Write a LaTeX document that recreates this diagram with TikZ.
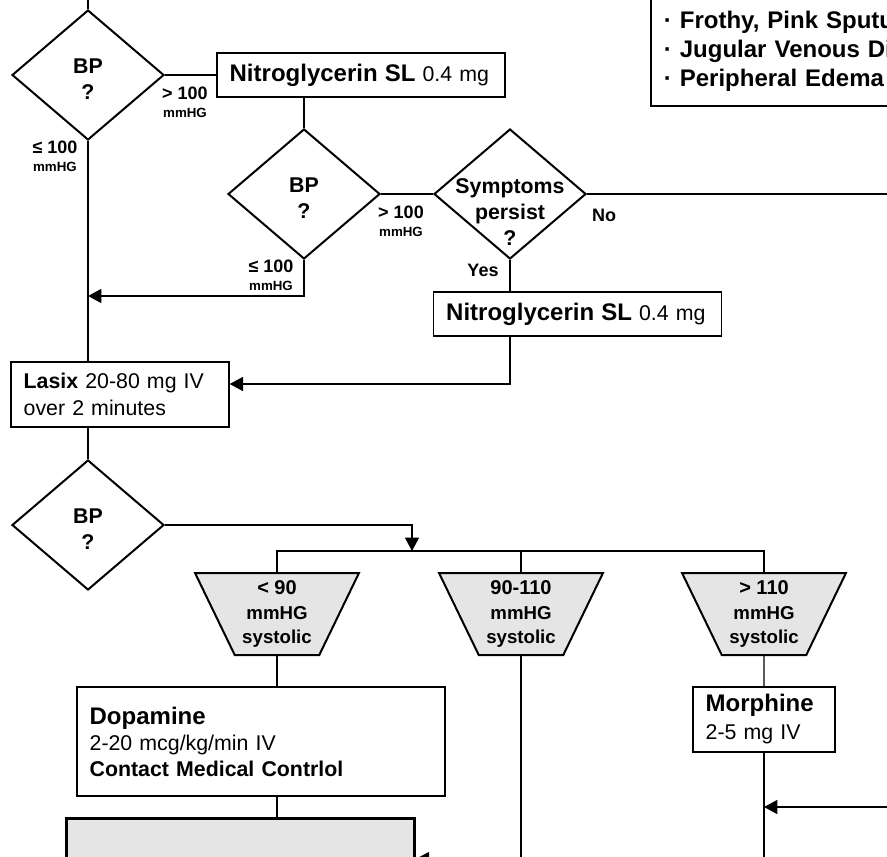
\documentclass[tikz,border=0pt]{standalone}
\usepackage{fontspec}
\setmainfont{Liberation Sans}
\usetikzlibrary{arrows.meta}
\usetikzlibrary{shapes.geometric}

\tikzset{
  decide/.style={draw, diamond, line width=1.5pt, inner sep=0pt, minimum width=114pt, minimum height=97.5pt},
  dtext/.style={align=center, inner sep=0pt, font=\bfseries\fontsize{16}{19.5}\selectfont},
  procbox/.style={draw, line width=1pt, inner xsep=9.5pt, inner ysep=0pt, align=left, font=\fontsize{16}{20}\selectfont},
  bprange/.style={draw, trapezium, trapezium angle=116, trapezium stretches=true, fill=gray!20, line width=1.5pt, inner sep=0pt, minimum width=123pt, minimum height=61.5pt, align=center, font=\bfseries\fontsize{14}{18.4}\selectfont},
  cond/.style={align=center, inner sep=0pt, font=\bfseries\fontsize{10}{13.5}\selectfont},
  yesno/.style={inner sep=0pt, font=\bfseries\fontsize{13.5}{16}\selectfont},
  link/.style={line width=1pt},
  linkarr/.style={link, -{Triangle[length=10pt,width=10.5pt]}},
}

\begin{document}
\begin{tikzpicture}[x=0.75pt,y=0.75pt,yscale=-1,xscale=1]
\useasboundingbox (0,0) rectangle (887,856);
\clip (0,0) rectangle (887,856);

%Flowchart: Decision
\node[decide] (bp1) at (88,75) {};
\node[dtext] (bp1txt) at (88,79) {BP\\?};
%Flowchart: Process
\node[procbox, text width=197pt, minimum height=33pt] (nitro1) at (361,75) {{\bfseries\fontsize{18}{20}\selectfont Nitroglycerin SL} 0.4 mg};
%Flowchart: Decision
\node[decide] (bp2) at (304,194) {};
\node[dtext] (bp2txt) at (304,198) {BP\\?};
%Flowchart: Decision
\node[decide] (sym) at (510,194) {};
\node[dtext] (symtxt) at (510,212) {Symptoms\\persist\\?};
%Flowchart: Process
\node[procbox, text width=197pt, minimum height=33pt] (nitro2) at (577.5,314) {{\bfseries\fontsize{18}{20}\selectfont Nitroglycerin SL} 0.4 mg};
%Flowchart: Process
\node[procbox, text width=144.5pt, minimum height=48.75pt] (lasix) at (120,394.5) {\textbf{Lasix} 20-80 mg IV\\over 2 minutes};
%Flowchart: Decision
\node[decide] (bp3) at (88,525) {};
\node[dtext] (bp3txt) at (88,529) {BP\\?};
%Flowchart: Manual Operation
\node[bprange] (t1) at (277,614) {{\fontsize{15}{18.4}\selectfont < 90}\\mmHG\\systolic};
\node[bprange] (t2) at (521,614) {{\fontsize{15}{18.4}\selectfont 90-110}\\mmHG\\systolic};
\node[bprange] (t3) at (764,614) {{\fontsize{15}{18.4}\selectfont > 110}\\mmHG\\systolic};
%Flowchart: Process
\node[procbox, text width=257pt, minimum height=81.75pt, font=\fontsize{16}{19.5}\selectfont] (dop) at (261,741.5) {{\bfseries\fontsize{18}{19.5}\selectfont Dopamine}\\2-20 mcg/kg/min IV\\\textbf{Contact Medical Contrlol}};
\node[procbox, text width=87.5pt, minimum height=48.75pt, font=\fontsize{16}{21}\selectfont] (morph) at (764,719.5) {{\bfseries\fontsize{18}{21}\selectfont Morphine}\\2-5 mg IV};
%Shape: Rectangle
\node[draw, line width=2pt, fill=gray!20, minimum width=261pt, minimum height=120pt, anchor=north west] (gbox) at (65,817) {};
\node[procbox, anchor=south west, text width=300pt, inner ysep=11pt, line width=1.8pt, font=\bfseries\fontsize{18}{21.75}\selectfont] (signs) at (650,107) {· Wheeze\\· Frothy, Pink Sputum\\· Jugular Venous Distention\\· Peripheral Edema};

% Text Node
\node[cond] (gt1) at (185,102) {{\fontsize{13.5}{13.5}\selectfont > 100}\\mmHG};
% Text Node
\node[cond] (le1) at (55,156) {{\fontsize{13.5}{13.5}\selectfont ≤ 100}\\mmHG};
% Text Node
\node[cond] (gt2) at (401,221) {{\fontsize{13.5}{13.5}\selectfont > 100}\\mmHG};
% Text Node
\node[cond] (le2) at (271,275) {{\fontsize{13.5}{13.5}\selectfont ≤ 100}\\mmHG};
% Text Node
\node[yesno] (no) at (604,215) {No};
% Text Node
\node[yesno] (yes) at (483,270) {Yes};

%Straight Lines
\coordinate (topin) at (88,-10);
\coordinate (noout) at (900,194);
\coordinate (join1) at (88,296);
\coordinate (bus) at (412,551);
\coordinate (morphout) at (764,880);
\coordinate (fromright) at (900,807);
\draw[link] (topin) -- (bp1.north);
\draw[link] (bp1.east) -- (nitro1.west);
\draw[link] (bp2.north |- nitro1.south) -- (bp2.north);
\draw[link] (bp2.east) -- (sym.west);
\draw[link] (sym.east) -- (noout);
\draw[link] (sym.south) -- (sym.south |- nitro2.north);
\draw[link] (bp1.south) -- (bp1.south |- lasix.north);
\draw[linkarr] (bp2.south) |- (join1);
\draw[linkarr] (sym.south |- nitro2.south) |- (lasix.east |- 0,384);
\draw[link] (bp3.north |- lasix.south) -- (bp3.north);
\draw[linkarr] (bp3.east) -| (bus);
\draw[link] (t1.north) -- (t1.north |- bus) -- (t3.north |- bus) -- (t3.north);
\draw[link] (t2.north |- bus) -- (t2.north);
\draw[link] (t1.south) -- (t1.south |- dop.north);
\draw[link] (t1.south |- dop.south) -- (t1.south |- gbox.north);
\draw[linkarr] (t2.south) |- (gbox.east |- 0,859);
\draw[link] (t3.south) -- (morph.north);
\draw[link] (morph.south) -- (morphout);
\draw[linkarr] (fromright) -- (morph.south |- fromright);

\end{tikzpicture}
\end{document}
